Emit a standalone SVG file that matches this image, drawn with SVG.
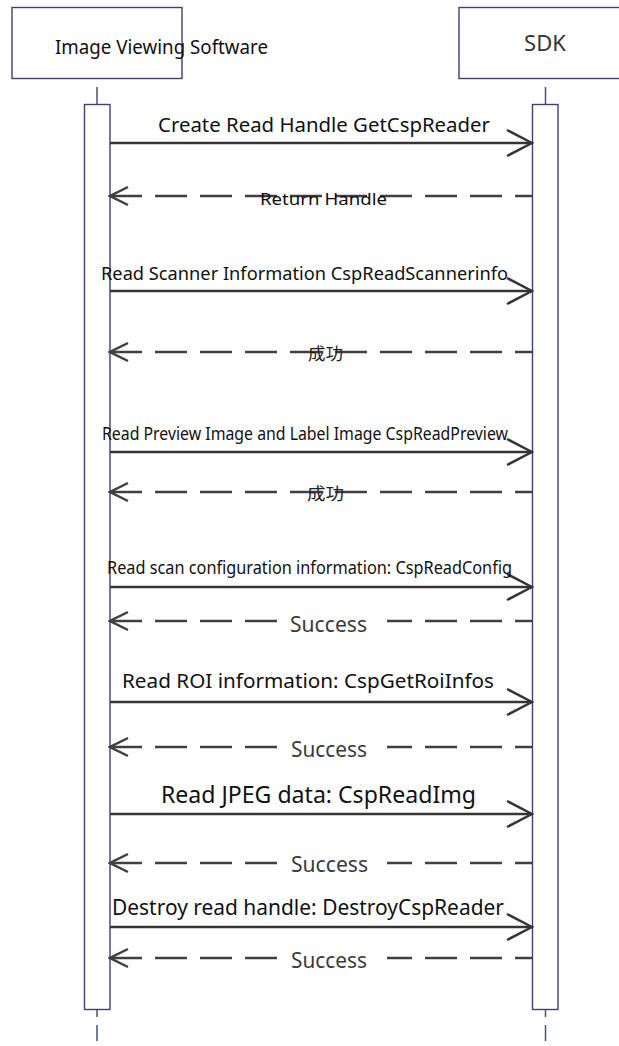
<svg xmlns="http://www.w3.org/2000/svg" width="619" height="1046" viewBox="0 0 619 1046">
  <style>
    .box { fill: #ffffff; stroke: #3b4170; stroke-width: 1.4; }
    .bar { fill: #ffffff; stroke: #3b4170; stroke-width: 1.4; }
    .life { stroke: #4a4f70; stroke-width: 1.5; fill: none; }
    .call { stroke: #353535; stroke-width: 2.5; fill: none; marker-end: url(#head-call); }
    .reply { stroke: #404040; stroke-width: 2.5; fill: none; stroke-dasharray: 32 13; marker-start: url(#head-reply); }
    .title { font-family: "Noto Sans", "Open Sans", sans-serif; fill: #111111; }
    .msg { font-family: "Noto Sans", "Open Sans", sans-serif; fill: #111111; }
    .ok { font-family: "Noto Sans", "Open Sans", sans-serif; fill: #3a3a3a; font-size: 21px; }
    .cjk { font-family: "Noto Sans", "Noto Sans CJK SC", sans-serif; fill: #222222; font-size: 17px; }
    .mask { fill: #ffffff; }
  </style>
  <defs>
    <marker id="head-call" markerUnits="userSpaceOnUse" viewBox="-28 -16 30 32" markerWidth="30" markerHeight="32" refX="0" refY="0" orient="auto">
      <path d="M-25,-13 L0,0 L-25,13" fill="none" stroke="#353535" stroke-width="2.5"/>
    </marker>
    <marker id="head-reply" markerUnits="userSpaceOnUse" viewBox="-22 -12 24 24" markerWidth="24" markerHeight="24" refX="0" refY="0" orient="auto-start-reverse">
      <path d="M-18,-9 L0,0 L-18,9" fill="none" stroke="#404040" stroke-width="2.5"/>
    </marker>
  </defs>

  <!-- participant: Image Viewing Software -->
  <g id="node-viewer">
    <rect class="box" x="12" y="7.5" width="170" height="71"/>
    <line class="life" x1="97" y1="87" x2="97" y2="104"/>
    <rect class="bar" x="84.5" y="104.5" width="25.5" height="905"/>
    <line class="life" x1="97" y1="1010" x2="97" y2="1017"/>
    <line class="life" x1="97" y1="1025" x2="97" y2="1041"/>
    <text class="title" x="55" y="54" font-size="19" textLength="213" lengthAdjust="spacingAndGlyphs">Image Viewing Software</text>
  </g>

  <!-- participant: SDK -->
  <g id="node-sdk">
    <rect class="box" x="459" y="7.5" width="174" height="71"/>
    <line class="life" x1="545.5" y1="87" x2="545.5" y2="104"/>
    <rect class="bar" x="532.5" y="104.5" width="25.5" height="905"/>
    <line class="life" x1="545.5" y1="1010" x2="545.5" y2="1017"/>
    <line class="life" x1="545.5" y1="1025" x2="545.5" y2="1041"/>
    <text class="title" x="545" y="51" font-size="22" text-anchor="middle" fill="#333333" style="fill:#333333">SDK</text>
  </g>

  <!-- messages -->
  <g id="connectors">
    <line class="call" x1="110" y1="143" x2="532" y2="143"/>
    <line class="reply" x1="110" y1="196" x2="532" y2="196"/>
    <line class="call" x1="110" y1="291" x2="532" y2="291"/>
    <line class="reply" x1="110" y1="352" x2="532" y2="352"/>
    <line class="call" x1="110" y1="452" x2="532" y2="452"/>
    <line class="reply" x1="110" y1="492" x2="532" y2="492"/>
    <line class="call" x1="110" y1="587" x2="532" y2="587"/>
    <line class="reply" x1="110" y1="621" x2="532" y2="621"/>
    <line class="call" x1="110" y1="702" x2="532" y2="702"/>
    <line class="reply" x1="110" y1="747" x2="532" y2="747"/>
    <line class="call" x1="110" y1="814" x2="532" y2="814"/>
    <line class="reply" x1="110" y1="863" x2="532" y2="863"/>
    <line class="call" x1="110" y1="927" x2="532" y2="927"/>
    <line class="reply" x1="110" y1="958" x2="532" y2="958"/>
  </g>

  <!-- message labels -->
  <g id="labels">
    <text class="msg" x="158" y="132" font-size="20.5" textLength="332" lengthAdjust="spacingAndGlyphs">Create Read Handle GetCspReader</text>
    <text class="msg" x="260" y="205" font-size="15.5" textLength="127" lengthAdjust="spacingAndGlyphs">Return Handle</text>
    <text class="msg" x="101" y="280" font-size="18.5" textLength="407" lengthAdjust="spacingAndGlyphs">Read Scanner Information CspReadScannerinfo</text>
    <text class="cjk" x="308" y="360" textLength="35" lengthAdjust="spacingAndGlyphs">成功</text>
    <text class="msg" x="102" y="440" font-size="18" textLength="406" lengthAdjust="spacingAndGlyphs">Read Preview Image and Label Image CspReadPreview</text>
    <text class="cjk" x="307" y="500" textLength="37" lengthAdjust="spacingAndGlyphs">成功</text>
    <text class="msg" x="107" y="574" font-size="17.5" textLength="405" lengthAdjust="spacingAndGlyphs">Read scan configuration information: CspReadConfig</text>
    <rect class="mask" x="284" y="610" width="103" height="26"/>
    <text class="ok" x="290" y="632" textLength="77" lengthAdjust="spacingAndGlyphs">Success</text>
    <text class="msg" x="122" y="688" font-size="20.3" textLength="372" lengthAdjust="spacingAndGlyphs">Read ROI information: CspGetRoiInfos</text>
    <rect class="mask" x="284" y="736" width="103" height="26"/>
    <text class="ok" x="291" y="757" textLength="76" lengthAdjust="spacingAndGlyphs">Success</text>
    <text class="msg" x="161" y="803" font-size="23" textLength="315" lengthAdjust="spacingAndGlyphs">Read JPEG data: CspReadImg</text>
    <rect class="mask" x="284" y="852" width="103" height="26"/>
    <text class="ok" x="291" y="872" textLength="77" lengthAdjust="spacingAndGlyphs">Success</text>
    <text class="msg" x="112" y="915" font-size="21" textLength="392" lengthAdjust="spacingAndGlyphs">Destroy read handle: DestroyCspReader</text>
    <rect class="mask" x="284" y="947" width="103" height="26"/>
    <text class="ok" x="291" y="968" textLength="76" lengthAdjust="spacingAndGlyphs">Success</text>
  </g>
</svg>
